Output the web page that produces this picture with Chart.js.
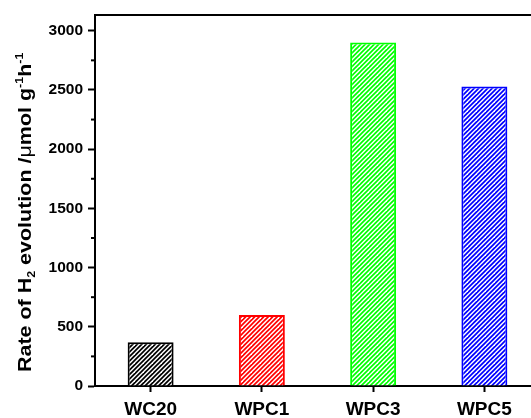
<!DOCTYPE html>
<html>
<head>
<meta charset="utf-8">
<script src="https://cdn.jsdelivr.net/npm/chart.js@4/dist/chart.umd.min.js"></script>
<style>
  html, body { margin: 0; padding: 0; background: #fff; overflow: hidden; }
  #wrap { width: 560px; height: 418px; position: relative; }
</style>
</head>
<body>
<div id="wrap"><canvas id="c"></canvas></div>
<script>
// Hydrogen evolution rate per sample
const categories = ['WC20', 'WPC1', 'WPC3', 'WPC5'];
const rates = [370, 600, 2900, 2530];
const barColors = ['#000000', '#ff0000', '#00ff00', '#0000ff'];
const yMin = 0;
const yMax = 3133;
const yStep = 250;
const yLabelStep = 500;

const FONT = '"Liberation Sans", Arial, Helvetica, sans-serif';

// Diagonal "/" hatch fill in the bar colour on white
function hatch(color) {
  const t = document.createElement('canvas');
  t.width = 9; t.height = 9;
  const g = t.getContext('2d');
  g.fillStyle = '#ffffff';
  g.fillRect(0, 0, 9, 9);
  g.strokeStyle = color;
  g.lineWidth = 1.7;
  for (const c of [-4.5, 0, 4.5, 9, 13.5, 18, 22.5]) {
    g.beginPath();
    g.moveTo(c + 3, -3);
    g.lineTo(c - 12, 12);
    g.stroke();
  }
  return g.createPattern(t, 'repeat');
}

// Frame top edge + short minor ticks on the value axis
const framePlugin = {
  id: 'frame',
  afterDraw(chart) {
    const { ctx, chartArea } = chart;
    const y = chart.scales.y;
    ctx.save();
    ctx.strokeStyle = '#000';
    ctx.lineWidth = 2;
    ctx.beginPath();
    ctx.moveTo(chartArea.left - 1, chartArea.top);
    ctx.lineTo(chartArea.right + 1, chartArea.top);
    ctx.stroke();
    y.ticks.forEach(t => {
      if (t.value % yLabelStep !== 0) {
        const py = y.getPixelForValue(t.value);
        ctx.beginPath();
        ctx.moveTo(chartArea.left - 4, py);
        ctx.lineTo(chartArea.left, py);
        ctx.stroke();
      }
    });
    ctx.restore();
  }
};

// Value-axis title with subscript / superscripts
const yTitlePlugin = {
  id: 'yTitle',
  afterDraw(chart) {
    const { ctx } = chart;
    const parts = [
      { t: 'Rate of H', f: 'bold 19px ' + FONT, dy: 0 },
      { t: '2', f: 'bold 11px ' + FONT, dy: 4 },
      { t: ' evolution /', f: 'bold 19px ' + FONT, dy: 0 },
      { t: 'μ', f: '19px ' + FONT, dy: 0 },
      { t: 'mol g', f: 'bold 19px ' + FONT, dy: 0 },
      { t: '-1', f: 'bold 11px ' + FONT, dy: -8 },
      { t: 'h', f: 'bold 19px ' + FONT, dy: 0 },
      { t: '-1', f: 'bold 11px ' + FONT, dy: -8 }
    ];
    ctx.save();
    ctx.translate(30.5, 372);
    ctx.rotate(-Math.PI / 2);
    ctx.scale(1.13, 1);
    ctx.fillStyle = '#000';
    ctx.textBaseline = 'alphabetic';
    ctx.textAlign = 'left';
    let x = 0;
    parts.forEach(p => {
      ctx.font = p.f;
      ctx.fillText(p.t, x, p.dy);
      x += ctx.measureText(p.t).width;
    });
    ctx.restore();
  }
};

new Chart(document.getElementById('c'), {
  type: 'bar',
  data: {
    labels: categories,
    datasets: [{
      data: rates,
      backgroundColor: barColors.map(hatch),
      borderColor: barColors,
      borderWidth: 2,
      barPercentage: 0.413,
      categoryPercentage: 1
    }]
  },
  options: {
    responsive: true,
    maintainAspectRatio: false,
    animation: false,
    layout: { padding: { top: 15, right: 20, bottom: 0, left: 0 } },
    plugins: { legend: { display: false }, tooltip: { enabled: false } },
    scales: {
      x: {
        offset: true,
        afterFit(s) { s.height = 32; },
        grid: {
          offset: false,
          drawOnChartArea: false,
          drawTicks: true,
          tickLength: 6,
          tickColor: '#000',
          tickWidth: 2
        },
        border: { display: true, color: '#000', width: 2 },
        ticks: {
          color: '#000',
          padding: 6,
          font: { family: FONT, size: 19, weight: 'bold' },
          maxRotation: 0
        }
      },
      y: {
        min: yMin,
        max: yMax,
        afterFit(s) { s.width = 95; },
        grid: {
          drawOnChartArea: false,
          drawTicks: true,
          tickLength: 7,
          tickWidth: 2,
          tickColor: c => (c.tick && c.tick.value % yLabelStep === 0) ? '#000' : 'rgba(0,0,0,0)'
        },
        border: { display: true, color: '#000', width: 2 },
        ticks: {
          stepSize: yStep,
          includeBounds: false,
          color: '#000',
          padding: 5,
          font: { family: FONT, size: 15.5, weight: 'bold' },
          callback: v => (v % yLabelStep === 0 ? String(v) : '')
        }
      }
    }
  },
  plugins: [framePlugin, yTitlePlugin]
});
</script>
</body>
</html>
